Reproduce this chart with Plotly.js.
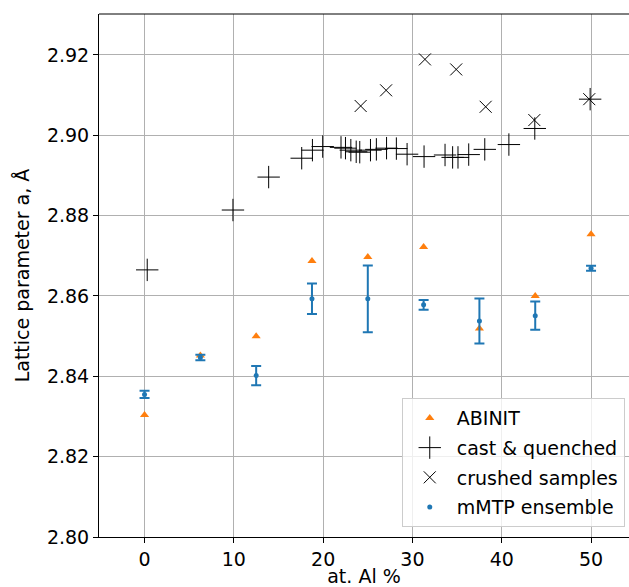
<!DOCTYPE html>
<html>
<head>
<meta charset="utf-8">
<script src="https://cdn.plot.ly/plotly-3.0.1.min.js"></script>
<style>html,body{margin:0;padding:0;background:#fff;}#chart{width:629px;height:587px;}</style>
</head>
<body>
<div id="chart"></div>
<script>
// ABINIT
const abinitX = [0, 6.25, 12.5, 18.75, 25, 31.25, 37.5, 43.75, 50];
const abinitY = [2.8304, 2.8452, 2.8500, 2.8687, 2.8697, 2.8722, 2.8519, 2.8600, 2.8754];

// cast & quenched
const castX = [0.3, 9.9, 13.9, 17.6, 18.8, 19.95, 22.0, 22.5, 23.1, 23.7, 24.1, 25.3, 25.96, 27.1, 28.2, 29.4, 31.3, 33.65, 34.5, 35.1, 36.3, 38.1, 40.8, 43.7, 49.9];
const castY = [2.8665, 2.8814, 2.8896, 2.8943, 2.8963, 2.8972, 2.8970, 2.8968, 2.8963, 2.8959, 2.8958, 2.8963, 2.8965, 2.8968, 2.8967, 2.8953, 2.8947, 2.8951, 2.8945, 2.8945, 2.8952, 2.8965, 2.8977, 2.9017, 2.9090];

// crushed samples
const crushX = [24.2, 27.05, 31.4, 34.9, 38.2, 43.65, 49.8];
const crushY = [2.9073, 2.9112, 2.9189, 2.9164, 2.9071, 2.9038, 2.9090];

// mMTP ensemble
const mtpX = [0, 6.25, 12.5, 18.75, 25, 31.25, 37.5, 43.75, 50];
const mtpY = [2.8355, 2.8447, 2.8402, 2.8593, 2.8593, 2.8578, 2.8538, 2.8551, 2.8669];
const mtpErr = [0.0009, 0.0007, 0.0024, 0.0038, 0.0083, 0.0012, 0.0056, 0.0035, 0.0006];

const traces = [
  {x: abinitX, y: abinitY, type: 'scatter', mode: 'markers', name: 'ABINIT', legendgroup: 'a',
   marker: {symbol: 'triangle-up', color: '#ff7f0e', size: 8}},
  {x: castX, y: castY, type: 'scatter', mode: 'markers', name: 'cast &amp; quenched', legendgroup: 'b',
   marker: {symbol: 'cross-thin-open', color: '#000', size: 16, line: {color: '#000', width: 1}}},
  {x: crushX, y: crushY, type: 'scatter', mode: 'markers', name: 'crushed samples', legendgroup: 'c',
   marker: {symbol: 'x-thin-open', color: '#000', size: 12, line: {color: '#000', width: 1}}},
  {x: mtpX, y: mtpY, type: 'scatter', mode: 'markers', name: 'mMTP ensemble', legendgroup: 'd',
   marker: {symbol: 'circle', color: '#1f77b4', size: 5},
   error_y: {type: 'data', array: mtpErr, visible: true, color: '#1f77b4', thickness: 2, width: 5}}
];

const font = {family: 'DejaVu Sans, sans-serif', size: 19, color: '#000'};

const layout = {
  width: 629, height: 587,
  margin: {l: 99, r: 0, t: 14, b: 50},
  paper_bgcolor: '#fff', plot_bgcolor: '#fff',
  font: font,
  showlegend: true,
  xaxis: {
    range: [-5.1, 54.25], dtick: 10, tick0: 0,
    showgrid: true, gridcolor: '#b0b0b0', gridwidth: 1,
    zeroline: false, showline: true, linecolor: '#000', linewidth: 1, mirror: false,
    ticks: 'outside', ticklen: 5, tickcolor: '#000',
    title: {text: 'at. Al %', font: font, standoff: 2},
    tickfont: font
  },
  yaxis: {
    range: [2.80, 2.9302], dtick: 0.02, tick0: 2.80, tickformat: '.2f',
    showgrid: true, gridcolor: '#b0b0b0', gridwidth: 1,
    zeroline: false, showline: true, linecolor: '#000', linewidth: 1,
    ticks: 'outside', ticklen: 5, tickcolor: '#000',
    title: {text: 'Lattice parameter a, Å', font: font, standoff: 12},
    tickfont: font
  },
  shapes: [
    {type: 'line', xref: 'paper', yref: 'paper', x0: 0, x1: 1, y0: 1, y1: 1, line: {color: '#000', width: 1}}
  ],
  legend: {
    x: 0.992, y: 0.019, xanchor: 'right', yanchor: 'bottom',
    bgcolor: 'rgba(255,255,255,0.8)', bordercolor: '#ccc', borderwidth: 1,
    font: {family: 'DejaVu Sans, sans-serif', size: 19, color: '#000'},
    traceorder: 'grouped', tracegroupgap: 2, itemsizing: 'trace', itemwidth: 44
  }
};

Plotly.newPlot('chart', traces, layout, {displayModeBar: false, staticPlot: true});
</script>
</body>
</html>
